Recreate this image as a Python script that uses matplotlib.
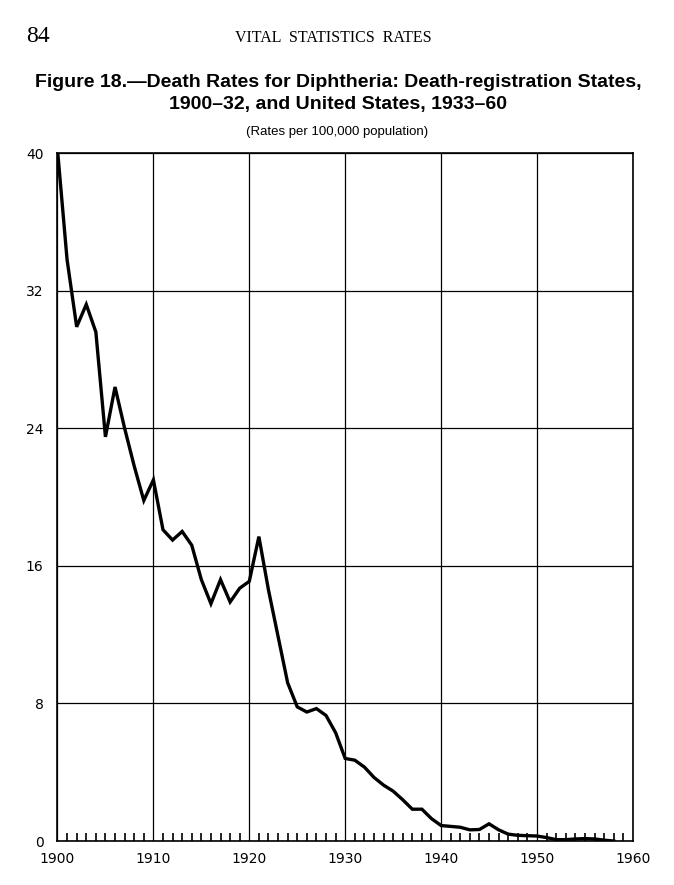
import matplotlib.pyplot as plt
from matplotlib.ticker import MultipleLocator

# Diphtheria death rates per 100,000, 1900-1958
years = list(range(1900, 1959))
rates = [40.2, 33.8, 29.9, 31.2, 29.6, 23.5, 26.4, 24.0, 21.8, 19.8,
         21.0, 18.1, 17.5, 18.0, 17.2, 15.2, 13.8, 15.2, 13.9, 14.7,
         15.1, 17.7, 14.6, 11.9, 9.2, 7.8, 7.5, 7.7, 7.3, 6.3,
         4.8, 4.7, 4.3, 3.7, 3.25, 2.9, 2.4, 1.85, 1.85, 1.3,
         0.9, 0.85, 0.8, 0.65, 0.67, 1.0, 0.65, 0.4, 0.33, 0.31,
         0.29, 0.2, 0.08, 0.08, 0.12, 0.14, 0.12, 0.05, 0.0]

x_ticks = [1900, 1910, 1920, 1930, 1940, 1950, 1960]
y_ticks = [0, 8, 16, 24, 32, 40]

sans = ['Liberation Sans', 'DejaVu Sans']
serif = ['Liberation Serif', 'DejaVu Serif']

fig = plt.figure(figsize=(6.74, 8.85), dpi=100)
ax = fig.add_axes([0.0853, 0.0497, 0.939 - 0.0853, 0.827 - 0.0497])

ax.plot(years, rates, color='black', lw=2.4, solid_joinstyle='miter', zorder=3)

ax.set_xlim(1900, 1960)
ax.set_ylim(0, 40)
ax.set_xticks(x_ticks)
ax.set_yticks(y_ticks)
ax.set_xticklabels([str(t) for t in x_ticks], family='DejaVu Sans', fontsize=10)
ax.set_yticklabels([str(t) for t in y_ticks], family='DejaVu Sans', fontsize=10)
ax.tick_params(axis='x', which='major', length=0, pad=8)
ax.tick_params(axis='y', which='major', length=0, pad=10)
ax.xaxis.set_minor_locator(MultipleLocator(1))
ax.tick_params(axis='x', which='minor', direction='in', length=6, width=1.2,
               color='black')
ax.grid(True, which='major', color='black', lw=0.9)
for s in ax.spines.values():
    s.set_linewidth(1.2)

fig.text(0.039, 0.959, '84', family=serif, fontsize=17, va='center')
fig.text(0.494, 0.957, 'VITAL  STATISTICS  RATES', family=serif,
         fontsize=11.5, ha='center', va='center')
fig.text(0.502, 0.907, 'Figure 18.\u2014Death Rates for Diphtheria: Death-registration States,',
         family=sans, fontsize=14, fontweight='bold', ha='center', va='center')
fig.text(0.502, 0.882, '1900\u201332, and United States, 1933\u201360',
         family=sans, fontsize=14, fontweight='bold', ha='center', va='center')
fig.text(0.5, 0.851, '(Rates per 100,000 population)', family=sans, fontsize=9.5,
         ha='center', va='center')

fig.savefig('out.png', dpi=100)
